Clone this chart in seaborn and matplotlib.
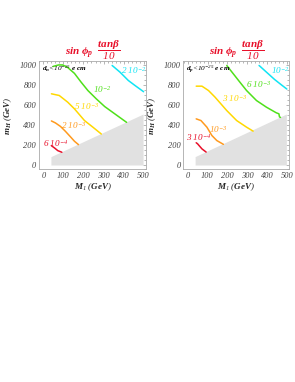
import matplotlib
matplotlib.use("Agg")
import matplotlib.pyplot as plt
import pandas as pd
import seaborn as sns
from matplotlib.ticker import MultipleLocator

# gray excluded region (M_1, m_H)
gray_x = [40, 40, 500, 500]
gray_y = [-10, 75, 505, -10]

# left panel: neutron EDM contours
left_red_x = [40, 55, 72, 92]
left_red_y = [190, 168, 140, 124]
left_orange_x = [40, 60, 85, 110, 135, 155, 175]
left_orange_y = [440, 420, 385, 335, 280, 235, 201]
left_yellow_x = [40, 79, 121, 155, 205, 247, 289]
left_yellow_y = [714, 697, 630, 562, 444, 377, 308]
left_green_x = [48, 75, 96, 121, 155, 188, 222, 264, 306, 356, 415]
left_green_y = [990, 1005, 1005, 980, 920, 832, 747, 663, 585, 512, 426]
left_cyan_x = [343, 382, 424, 457, 500]
left_cyan_y = [1000, 933, 848, 798, 735]
left_labels = ["6 10$^{-4}$", "2 10$^{-3}$", "5 10$^{-3}$", "10$^{-2}$", "2 10$^{-2}$"]
left_label_xy = [(0, 215), (90, 390), (155, 585), (248, 760), (388, 945)]
left_note = r"$d_n$<10$^{-25}$ $e$ $cm$"

# right panel: proton EDM contours
right_red_x = [43, 50, 72, 93]
right_red_y = [220, 209, 158, 126]
right_orange_x = [43, 67, 97, 122, 147, 180]
right_orange_y = [461, 444, 377, 293, 242, 204]
right_yellow_x = [43, 72, 105, 138, 197, 247, 297, 330]
right_yellow_y = [791, 791, 747, 680, 545, 444, 377, 337]
right_green_x = [197, 230, 263, 297, 347, 397, 447, 460, 463, 468]
right_green_y = [1000, 916, 832, 747, 646, 579, 522, 512, 480, 476]
right_cyan_x = [360, 397, 438, 472, 500]
right_cyan_y = [1000, 933, 859, 805, 762]
right_labels = ["3 10$^{-4}$", "10$^{-3}$", "3 10$^{-3}$", "6 10$^{-3}$", "10$^{-2}$"]
right_label_xy = [(-8, 272), (108, 350), (172, 668), (293, 803), (422, 950)]
right_note = r"$d_p$<10$^{-25}$ $e$ $cm$"

colors = ["#e8102a", "#ff9a1e", "#ffd800", "#4fe01a", "#10e4f4"]

sns.set_theme(style="white")
plt.rcParams["font.family"] = ["Liberation Serif", "DejaVu Serif"]
plt.rcParams["mathtext.fontset"] = "custom"
plt.rcParams["mathtext.it"] = "Liberation Serif:italic:bold"
plt.rcParams["mathtext.rm"] = "Liberation Serif:italic"
plt.rcParams["mathtext.bf"] = "Liberation Serif:italic:bold"


def draw_panel(ax, curves, labels, label_xy, note):
    ax.fill(gray_x, gray_y, color="#e1e1e1", lw=0)
    for (xs, ys), color, text, (tx, ty) in zip(curves, colors, labels, label_xy):
        frame = pd.DataFrame({"x": xs, "y": ys})
        sns.lineplot(data=frame, x="x", y="y", sort=False, color=color, lw=1.1, ax=ax)
        ax.text(tx, ty, text, color=color, fontsize=6.6, style="italic", ha="left", va="center")
    ax.text(-8, 962, note, color="black", fontsize=5.2, style="italic", ha="left", va="center")
    ax.set_xlim(-22, 512)
    ax.set_ylim(-50, 1045)
    ax.xaxis.set_major_locator(MultipleLocator(100))
    ax.xaxis.set_minor_locator(MultipleLocator(20))
    ax.yaxis.set_major_locator(MultipleLocator(200))
    ax.yaxis.set_minor_locator(MultipleLocator(50))
    ax.tick_params(which="both", direction="in", top=True, right=True, colors="#999999",
                   labelcolor="#444444", labelsize=6, pad=2, width=0.5)
    ax.tick_params(which="major", length=2.5)
    ax.tick_params(which="minor", length=1.3)
    for label in ax.get_xticklabels() + ax.get_yticklabels():
        label.set_style("italic")
    for spine in ax.spines.values():
        spine.set_color("#aaaaaa")
        spine.set_linewidth(0.6)
    ax.set_xlabel(r"$M_1$ $(GeV)$", fontsize=6.5, labelpad=1)
    ax.set_ylabel(r"$m_H$ $(GeV)$", fontsize=6.5, labelpad=4)
    ax.text(0.5, 1.1, r"$sin\ \phi_p\ \ \dfrac{tan\beta}{\mathit{10}}$", color="#e8102a",
            fontsize=8, transform=ax.transAxes, ha="center", va="center")


fig = plt.figure(figsize=(2.95, 3.82), dpi=100)
ax_left = fig.add_axes([0.1322, 0.5563, 0.3627, 0.284])
ax_right = fig.add_axes([0.6214, 0.5563, 0.359, 0.284])

left_curves = [(left_red_x, left_red_y), (left_orange_x, left_orange_y), (left_yellow_x, left_yellow_y),
               (left_green_x, left_green_y), (left_cyan_x, left_cyan_y)]
right_curves = [(right_red_x, right_red_y), (right_orange_x, right_orange_y), (right_yellow_x, right_yellow_y),
                (right_green_x, right_green_y), (right_cyan_x, right_cyan_y)]

draw_panel(ax_left, left_curves, left_labels, left_label_xy, left_note)
draw_panel(ax_right, right_curves, right_labels, right_label_xy, right_note)

fig.savefig("out.png", dpi=100)
